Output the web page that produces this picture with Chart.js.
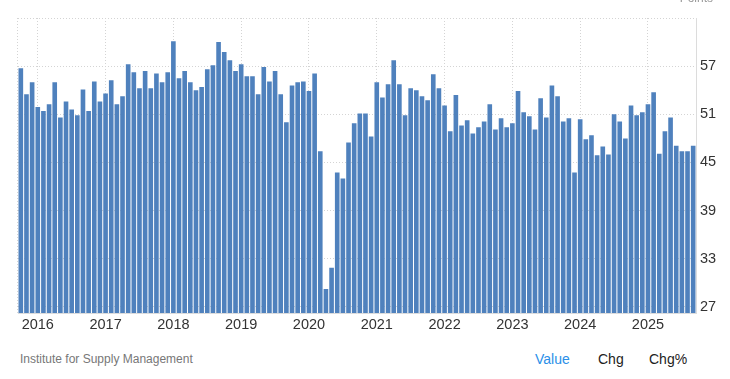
<!DOCTYPE html>
<html>
<head>
<meta charset="utf-8">
<script src="https://cdn.jsdelivr.net/npm/chart.js@4.4.1/dist/chart.umd.min.js"></script>
<style>
  html, body { margin: 0; padding: 0; background: #fff; overflow: hidden; }
  body { width: 730px; height: 379px; position: relative; font-family: "Liberation Sans", Arial, Helvetica, sans-serif; }
  #wrap { position: absolute; left: 0; top: 0; width: 730px; height: 340px; }
  .t { position: absolute; white-space: nowrap; }
</style>
</head>
<body>
<div id="wrap"><canvas id="c" width="730" height="340"></canvas></div>
<div class="t" id="units" style="right:17px; top:-9px; font-size:12px; color:#999;">Points</div>
<div class="t" id="src" style="left:20px; top:352px; font-size:12px; line-height:14px; color:#777;">Institute for Supply Management</div>
<div class="t" style="left:535px; top:351px; font-size:14px; line-height:16px; color:#2b8fe8;">Value</div>
<div class="t" style="left:598px; top:351px; font-size:14px; line-height:16px; color:#222;">Chg</div>
<div class="t" style="left:649px; top:351px; font-size:14px; line-height:16px; color:#222;">Chg%</div>
<script>
// ISM Services Employment, monthly, Oct 2015 - Sep 2025
const startYear = 2015;
const startMonth = 10;
const values = [
  56.75, 53.5, 55.0, 51.9, 51.4, 52.25, 55.0, 50.6, 52.6, 51.6, 50.9, 54.1, 51.4, 55.1, 52.6,
  53.6, 55.25, 52.25, 53.25, 57.25, 56.25, 54.25, 56.4, 54.25, 56.1, 55.0, 56.25, 60.1, 55.5, 56.4,
  55.0, 54.0, 54.4, 56.6, 57.1, 60.0, 58.75, 57.75, 56.4, 57.25, 55.75, 55.75, 53.5, 56.9, 55.1,
  56.4, 53.5, 50.0, 54.6, 55.0, 55.1, 53.9, 56.1, 46.4, 29.25, 31.9, 43.75, 43.0, 47.5, 49.9,
  51.1, 51.1, 48.25, 55.0, 53.1, 54.75, 57.75, 54.75, 50.9, 54.25, 54.0, 53.25, 52.75, 56.0, 54.25,
  52.1, 48.9, 53.4, 49.6, 50.25, 48.6, 49.4, 50.1, 52.25, 49.1, 50.5, 49.4, 49.9, 53.9, 51.25,
  50.75, 49.1, 53.0, 50.6, 54.6, 53.25, 50.1, 50.5, 43.75, 50.4, 47.9, 48.4, 45.9, 47.0, 46.0,
  51.0, 50.1, 48.0, 52.1, 50.9, 51.25, 52.25, 53.75, 46.1, 48.9, 50.6, 47.1, 46.4, 46.4, 47.1
];
const categories = [];
for (let i = 0; i < values.length; i++) {
  const m = (startMonth - 1 + i) % 12;
  const y = startYear + Math.floor((startMonth - 1 + i) / 12);
  categories.push(y + '-' + String(m + 1).padStart(2, '0'));
}
const yearTicks = ['2016', '2017', '2018', '2019', '2020', '2021', '2022', '2023', '2024', '2025'];
const yTicks = [27, 33, 39, 45, 51, 57, 63];
const yMin = 26.25;
const yMax = 63;

function isYearStart(idx) {
  const c = categories[idx];
  return c && c.endsWith('-01') && yearTicks.includes(c.slice(0, 4));
}

const leftLine = {
  id: 'leftLine',
  beforeDatasetsDraw(chart) {
    const { ctx, chartArea } = chart;
    ctx.save();
    ctx.strokeStyle = '#d4d4d4';
    ctx.lineWidth = 1;
    ctx.setLineDash([1, 2]);
    ctx.beginPath();
    ctx.moveTo(Math.round(chartArea.left) - 0.5, chartArea.top);
    ctx.lineTo(Math.round(chartArea.left) - 0.5, chartArea.bottom);
    ctx.stroke();
    ctx.restore();
  }
};

new Chart(document.getElementById('c'), {
  type: 'bar',
  data: {
    labels: categories,
    datasets: [{
      data: values,
      backgroundColor: '#4f81bd',
      borderWidth: 0,
      barPercentage: 1.0,
      categoryPercentage: 0.82
    }]
  },
  options: {
    responsive: false,
    animation: false,
    devicePixelRatio: 1,
    layout: { padding: { left: 18, top: 18, right: 0, bottom: 0 } },
    plugins: { legend: { display: false }, tooltip: { enabled: false } },
    scales: {
      x: {
        offset: true,
        grid: {
          offset: false,
          drawTicks: false,
          color: (ctx) => (ctx.type === 'tick' && isYearStart(ctx.index)) ? '#d4d4d4' : 'rgba(0,0,0,0)'
        },
        border: { display: true, color: '#dcdcdc', dash: [1, 2] },
        ticks: {
          autoSkip: false,
          maxRotation: 0,
          minRotation: 0,
          padding: 3,
          color: '#333',
          font: { family: '"Liberation Sans", Arial, sans-serif', size: 14.5 },
          callback: (v, idx) => isYearStart(idx) ? categories[idx].slice(0, 4) : ''
        },
        afterFit: (s) => { s.height = 27; }
      },
      y: {
        position: 'right',
        min: yMin,
        max: yMax,
        afterBuildTicks: (s) => { s.ticks = yTicks.map(v => ({ value: v })); },
        grid: { drawTicks: false, color: '#d4d4d4' },
        border: { display: true, color: '#dcdcdc', dash: [1, 2] },
        ticks: {
          padding: 4,
          color: '#333',
          font: { family: '"Liberation Sans", Arial, sans-serif', size: 14.5 },
          callback: (v) => v === 63 ? '' : String(v)
        },
        afterFit: (s) => { s.width = 34; }
      }
    }
  },
  plugins: [leftLine]
});
</script>
</body>
</html>
